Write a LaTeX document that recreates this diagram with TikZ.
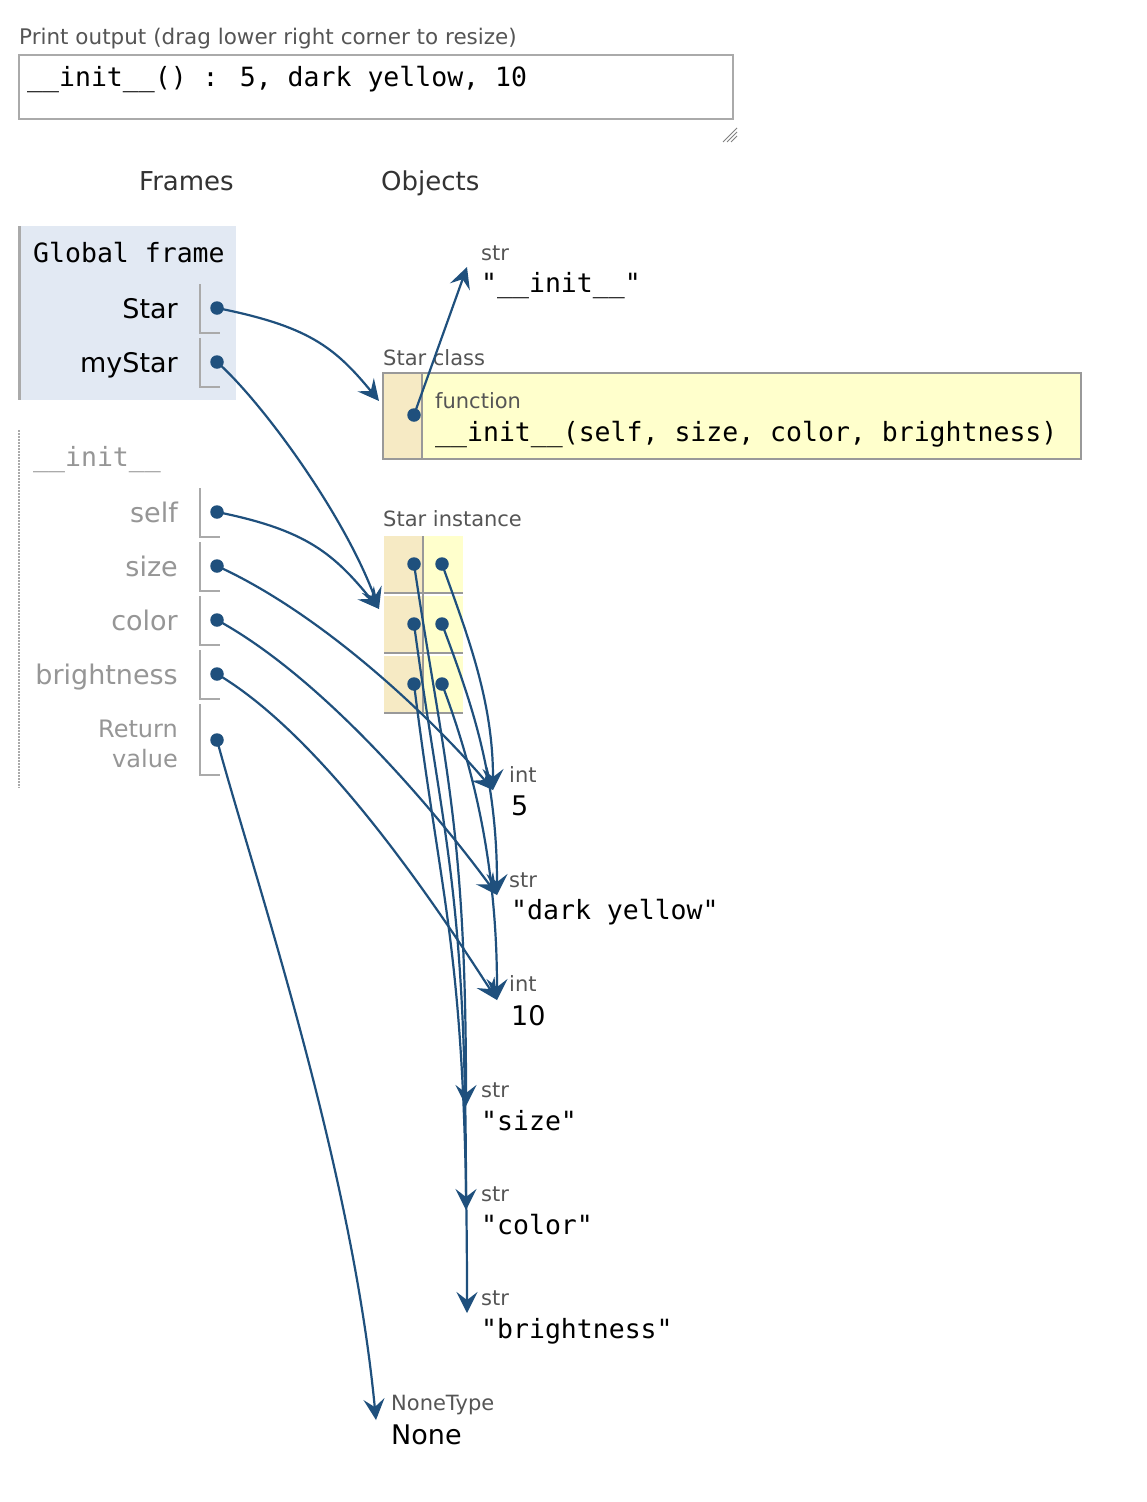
\documentclass[tikz,border=0pt]{standalone}
\usepackage{fontspec}
\setmainfont{DejaVu Sans}
\newfontfamily\monof{DejaVu Sans Mono}
\usetikzlibrary{arrows.meta}
\definecolor{arrowc}{RGB}{31,80,125}
\definecolor{framebg}{RGB}{226,233,243}
\definecolor{keyc}{RGB}{246,234,196}
\definecolor{valc}{RGB}{255,255,204}
\definecolor{labgray}{RGB}{85,85,85}
\definecolor{vargray}{RGB}{150,150,150}
\definecolor{linegray}{RGB}{170,170,170}
\definecolor{boxgray}{RGB}{153,153,153}
\tikzset{
  lab/.style={anchor=base west, inner sep=0pt, font=\fontsize{21}{24}\selectfont, text=labgray},
  hdr/.style={anchor=base west, inner sep=0pt, font=\fontsize{26}{30}\selectfont, text=black!80},
  code/.style={anchor=base west, inner sep=0pt, font=\monof\fontsize{26.5}{30}\selectfont},
  val/.style={anchor=base west, inner sep=0pt, font=\fontsize{27}{30}\selectfont},
  var/.style={anchor=base east, inner sep=0pt, font=\fontsize{27}{30}\selectfont},
  gvar/.style={var, text=vargray},
  ptrdot/.style={circle, fill=arrowc, inner sep=0pt, minimum size=13.5pt},
  ptr/.style={draw=arrowc, line width=2.2pt, -{Stealth[length=21pt,width=21pt,inset=8pt]}},
  bracket/.style={draw=linegray, line width=2pt},
  cellsep/.style={draw=boxgray, line width=2pt},
}
\begin{document}
\begin{tikzpicture}[x=1pt,y=-1pt]
\useasboundingbox[fill=white] (0,0) rectangle (1146,1502);

% print output
\node[lab, font=\fontsize{21.5}{24}\selectfont] (plabel) at (19,44) {Print output (drag lower right corner to resize)};
\draw[draw=linegray, line width=2pt] (19,55) rectangle (733,119);
\node[code] (ptext) at (27,86) {\_\_init\_\_() : 5, dark yellow, 10};
\draw[draw=gray, line width=1pt] (723,142) -- (737,128) (727,142) -- (737,132) (731,142) -- (737,136);

% headers
\node[hdr] (hframes) at (139,190) {Frames};
\node[hdr] (hobjects) at (381,190) {Objects};

% global frame
\fill[framebg] (19,226) rectangle (236,400);
\draw[draw=linegray, line width=3pt] (19.5,226) -- (19.5,400);
\node[code] (gf) at (33,262) {Global frame};
\node[var] (vStar) at (178,318) {Star};
\node[var] (vmyStar) at (178,372) {myStar};
\draw[bracket] (200,284) -- (200,333) -- (220,333);
\draw[bracket] (200,338) -- (200,387) -- (220,387);

% init frame
\draw[draw=linegray, line width=1.5pt, dash pattern=on 1.5pt off 1.5pt] (19,430) -- (19,788);
\node[code, text=vargray] (initf) at (33,466) {\_\_init\_\_};
\node[gvar] (vself) at (178,522) {self};
\node[gvar] (vsize) at (178,576) {size};
\node[gvar] (vcolor) at (178,630) {color};
\node[gvar] (vbright) at (178,684) {brightness};
\node[gvar, font=\fontsize{24}{30}\selectfont, align=right, anchor=north east] (vret) at (178,720) {Return\\value};
\foreach \t/\b in {488/537,542/591,596/645,650/699,704/775}{
  \draw[bracket] (200,\t) -- (200,\b) -- (220,\b);
}

% objects: str __init__
\node[lab] (oInitT) at (481,260) {str};
\node[code] (oInit) at (481,292) {"\_\_init\_\_"};

% Star class
\node[lab] (oClassT) at (383,365) {Star class};
\filldraw[fill=valc, draw=boxgray, line width=2pt] (383,373) rectangle (1081,459);
\fill[keyc] (384,374) rectangle (422,458);
\draw[cellsep] (422,374) -- (422,458);
\node[lab] (oFuncT) at (435,408) {function};
\node[code] (oFunc) at (435,441) {\_\_init\_\_(self, size, color, brightness)};

% Star instance
\node[lab] (oInstT) at (383,526) {Star instance};
\foreach \t/\b in {536/592,596/652,656/712}{
  \fill[keyc] (384,\t) rectangle (422,\b);
  \fill[valc] (424,\t) rectangle (463,\b);
  \draw[cellsep] (384,\b+1) -- (463,\b+1);
}
\draw[cellsep] (423,536) -- (423,714);

% primitive objects
\node[lab] (o5T) at (509,782) {int};
\node[val] (o5) at (511,815) {5};
\node[lab] (odyT) at (509,887) {str};
\node[code] (ody) at (511,919) {"dark yellow"};
\node[lab] (o10T) at (509,991) {int};
\node[val] (o10) at (511,1025) {10};
\node[lab] (osizeT) at (481,1097) {str};
\node[code] (osize) at (481,1130) {"size"};
\node[lab] (ocolorT) at (481,1201) {str};
\node[code] (ocolor) at (481,1234) {"color"};
\node[lab] (obrT) at (481,1305) {str};
\node[code] (obr) at (481,1338) {"brightness"};
\node[lab] (oNoneT) at (391,1410) {NoneType};
\node[val] (oNone) at (391,1444) {None};

% pointer dots
\node[ptrdot] (dStar) at (217,308) {};
\node[ptrdot] (dmyStar) at (217,362) {};
\node[ptrdot] (dself) at (217,512) {};
\node[ptrdot] (dsize) at (217,566) {};
\node[ptrdot] (dcolor) at (217,620) {};
\node[ptrdot] (dbright) at (217,674) {};
\node[ptrdot] (dret) at (217,740) {};
\node[ptrdot] (dfunc) at (414,415) {};
\node[ptrdot] (k1) at (414,564) {};
\node[ptrdot] (k2) at (414,624) {};
\node[ptrdot] (k3) at (414,684) {};
\node[ptrdot] (v1) at (442,564) {};
\node[ptrdot] (v2) at (442,624) {};
\node[ptrdot] (v3) at (442,684) {};

% targets
\coordinate (tClass) at (379,401);
\coordinate (tInst) at (379,609);
\coordinate (tInitStr) at (467,267);
\coordinate (t5) at (493,790);
\coordinate (tdy) at (497,895);
\coordinate (t10) at (497,1000);
\coordinate (tsize) at (466,1106);
\coordinate (tcolor) at (466,1210);
\coordinate (tbr) at (467,1313);
\coordinate (tNone) at (376,1420);

% connectors
\draw[ptr] (dStar.center) .. controls +(90,18) and +(-45,-55) .. (tClass);
\draw[ptr] (dmyStar.center) .. controls +(45,40) and +(-35,-95) .. (tInst);
\draw[ptr] (dself.center) .. controls +(90,18) and +(-45,-55) .. (tInst);
\draw[ptr] (dsize.center) .. controls +(110,50) and +(-55,-65) .. (t5);
\draw[ptr] (dcolor.center) .. controls +(110,60) and +(-55,-75) .. (tdy);
\draw[ptr] (dbright.center) .. controls +(110,65) and +(-55,-85) .. (t10);
\draw[ptr] (dret.center) .. controls +(35,130) and +(-25,-260) .. (tNone);
\draw[ptr] (dfunc.center) -- (tInitStr);
\draw[ptr] (k1.center) .. controls +(30,200) and +(0,-280) .. (tsize);
\draw[ptr] (k2.center) .. controls +(30,220) and +(0,-320) .. (tcolor);
\draw[ptr] (k3.center) .. controls +(30,240) and +(0,-360) .. (tbr);
\draw[ptr] (v1.center) .. controls +(25,70) and +(0,-90) .. (t5);
\draw[ptr] (v2.center) .. controls +(30,80) and +(0,-120) .. (tdy);
\draw[ptr] (v3.center) .. controls +(30,80) and +(0,-140) .. (t10);
\end{tikzpicture}
\end{document}
